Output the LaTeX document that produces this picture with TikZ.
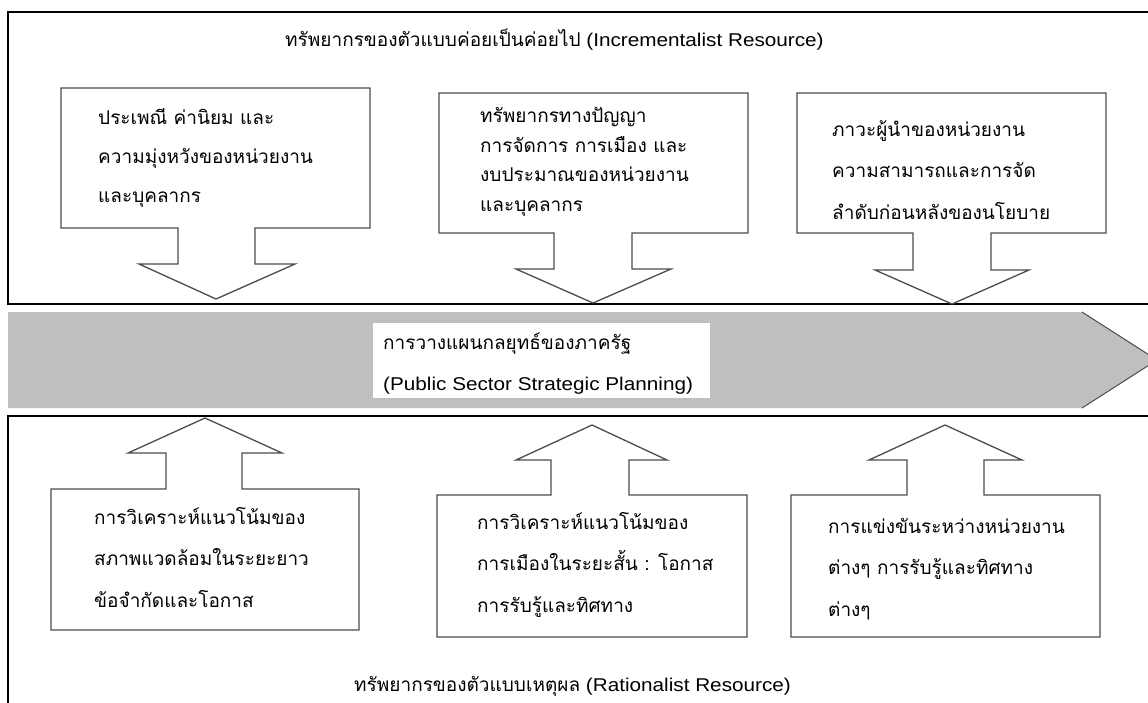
\documentclass[tikz,border=0pt]{standalone}
\usepackage{fontspec}
\setmainfont{Liberation Sans}[FakeStretch=1.12]
\newfontfamily\thaifont[Script=Thai]{Loma}
\usetikzlibrary{positioning}

\begin{document}
\begin{tikzpicture}[x=1pt,y=-1pt,
    frame/.style={draw=black,line width=1.3pt},
    callout/.style={draw=black!70,line width=1.3pt,fill=white},
    boxtext/.style={align=left,anchor=base west,inner sep=0pt,font=\thaifont\fontsize{19}{41.5}\selectfont},
    title/.style={anchor=base west,inner sep=0pt,font=\fontsize{18.5}{22}\selectfont}]

      \useasboundingbox (0,0) rectangle (1148,702);

      \draw[frame] (1152,12) -- (8,12) -- (8,304) -- (1152,304);
      \draw[frame] (1152,416) -- (8,416) -- (8,706);

      \fill[black!25] (8,312) -- (1082,312) -- (1157,360) -- (1082,408) -- (8,408) -- cycle;
      \draw[black!70,line width=1pt] (1082,312) -- (1157,360) -- (1082,408);
      \fill[white] (373,323) rectangle (710,398);

      \draw[callout] (61,88) -- (370,88) -- (370,228) -- (255,228) -- (255,264) -- (295,264) -- (216,299)
        -- (139,264) -- (178,264) -- (178,228) -- (61,228) -- cycle;
      \draw[callout] (439,93) -- (748,93) -- (748,233) -- (632,233) -- (632,269) -- (671,269) -- (593,303)
        -- (516,269) -- (554,269) -- (554,233) -- (439,233) -- cycle;
      \draw[callout] (797,93) -- (1106,93) -- (1106,233) -- (991,233) -- (991,270) -- (1029,270) -- (952,304)
        -- (875,270) -- (913,270) -- (913,233) -- (797,233) -- cycle;

      \draw[callout] (51,630) -- (359,630) -- (359,489) -- (242,489) -- (242,453) -- (282,453) -- (205,418)
        -- (128,453) -- (166,453) -- (166,489) -- (51,489) -- cycle;
      \draw[callout] (437,637) -- (747,637) -- (747,495) -- (629,495) -- (629,460) -- (667,460) -- (592,425)
        -- (516,460) -- (551,460) -- (551,495) -- (437,495) -- cycle;
      \draw[callout] (791,637) -- (1100,637) -- (1100,495) -- (984,495) -- (984,460) -- (1022,460) -- (945,425)
        -- (869,460) -- (907,460) -- (907,495) -- (791,495) -- cycle;

      \node[title] (incremental) at (285,46) {{\thaifont\fontsize{19}{22}\selectfont ทรัพยากรของตัวแบบค่อยเป็นค่อยไป} (Incrementalist Resource)};
      \node[title] (rational) at (354,691) {{\thaifont\fontsize{19}{22}\selectfont ทรัพยากรของตัวแบบเหตุผล} (Rationalist Resource)};

      \node[boxtext,font=\thaifont\fontsize{19}{39}\selectfont] (tradition) at (98,202)
        {ประเพณี ค่านิยม และ\\ความมุ่งหวังของหน่วยงาน\\และบุคลากร};
      \node[boxtext,font=\thaifont\fontsize{19}{29.5}\selectfont] (intellect) at (480,211)
        {ทรัพยากรทางปัญญา\\การจัดการ การเมือง และ\\งบประมาณของหน่วยงาน\\และบุคลากร};
      \node[boxtext] (leadership) at (832,219)
        {ภาวะผู้นำของหน่วยงาน\\ความสามารถและการจัด\\ลำดับก่อนหลังของนโยบาย};

      \node[boxtext] (planning) at (383,349) {การวางแผนกลยุทธ์ของภาครัฐ};
      \node[title] (planningen) at (383,390) {(Public Sector Strategic Planning)};

      \node[boxtext] (longterm) at (94,607)
        {การวิเคราะห์แนวโน้มของ\\สภาพแวดล้อมในระยะยาว\\ข้อจำกัดและโอกาส};
      \node[boxtext] (shortterm) at (477,612)
        {การวิเคราะห์แนวโน้มของ\\การเมืองในระยะสั้น : โอกาส\\การรับรู้และทิศทาง};
      \node[boxtext] (competition) at (828,616)
        {การแข่งขันระหว่างหน่วยงาน\\ต่างๆ การรับรู้และทิศทาง\\ต่างๆ};
  \end{tikzpicture}
\end{document}
